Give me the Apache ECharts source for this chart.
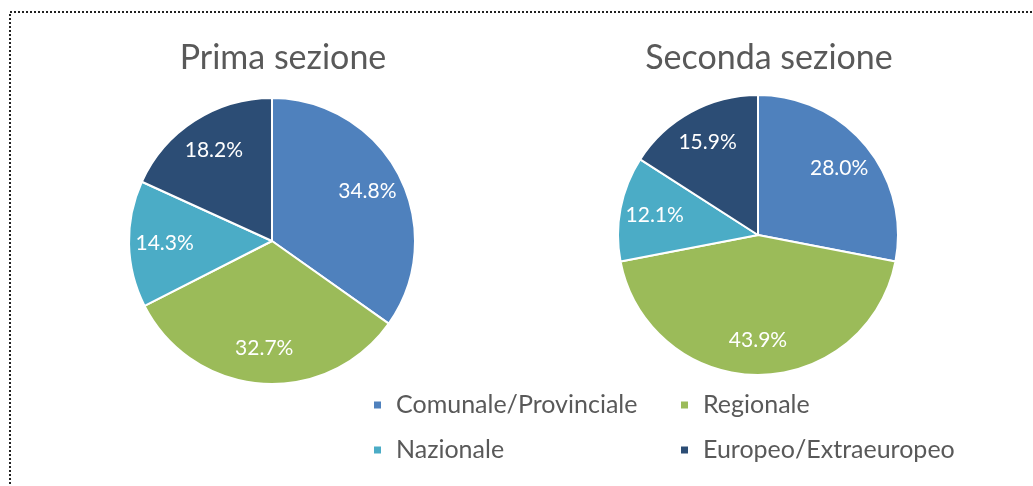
<!DOCTYPE html>
<html>
<head>
<meta charset="utf-8">
<script src="https://cdn.jsdelivr.net/npm/echarts@6/dist/echarts.min.js"></script>
<style>
html, body { margin: 0; padding: 0; background: #fff; }
#chart { width: 1033px; height: 486px; }
</style>
</head>
<body>
<div id="chart"></div>
<script>
const categories = ['Comunale/Provinciale', 'Regionale', 'Nazionale', 'Europeo/Extraeuropeo'];
const colors = ['#4F81BD', '#9BBB59', '#4BACC6', '#2C4D75'];
const primaValues = [34.8, 32.7, 14.3, 18.2];
const secondaValues = [28.0, 43.9, 12.1, 15.9];
const titles = ['Prima sezione', 'Seconda sezione'];

const font = 'Lato, "Open Sans", sans-serif';
const chart = echarts.init(document.getElementById('chart'));

function toData(values) {
    return categories.map((name, i) => ({ name: name, value: values[i] }));
}

// slices drawn in one series, labels in a transparent ring on top (puts them ~0.73R out)
function pieSeries(values, center, radius) {
    return [
        {
            type: 'pie',
            center: center,
            radius: [0, radius],
            startAngle: 90,
            clockwise: true,
            label: { show: false },
            labelLine: { show: false },
            itemStyle: { borderColor: '#fff', borderWidth: 2 },
            emphasis: { disabled: true },
            data: toData(values)
        },
        {
            type: 'pie',
            center: center,
            radius: [radius * 0.46, radius],
            startAngle: 90,
            clockwise: true,
            silent: true,
            itemStyle: { color: 'transparent', borderWidth: 0 },
            label: {
                show: true,
                position: 'inside',
                color: '#fff',
                fontFamily: font,
                fontSize: 21,
                formatter: p => p.value.toFixed(1) + '%'
            },
            labelLine: { show: false },
            emphasis: { disabled: true },
            data: toData(values)
        }
    ];
}

const legendText = { color: '#595959', fontFamily: font, fontSize: 25, lineHeight: 26, padding: [0, 0, 0, 9] };

const option = {
    animation: false,
    color: colors,
    title: [
        { text: titles[0], left: 278, top: 36, textAlign: 'center',
          textStyle: { color: '#595959', fontFamily: font, fontSize: 34, fontWeight: 'normal' } },
        { text: titles[1], left: 764, top: 36, textAlign: 'center',
          textStyle: { color: '#595959', fontFamily: font, fontSize: 34, fontWeight: 'normal' } }
    ],
    legend: [
        { data: [categories[0], categories[2]], orient: 'vertical', left: 372, top: 392, padding: 0,
          icon: 'rect', itemWidth: 9, itemHeight: 9, itemGap: 19, selectedMode: false, textStyle: legendText },
        { data: [categories[1], categories[3]], orient: 'vertical', left: 679, top: 392, padding: 0,
          icon: 'rect', itemWidth: 9, itemHeight: 9, itemGap: 19, selectedMode: false, textStyle: legendText }
    ],
    graphic: [
        { type: 'rect', silent: true, z: -1,
          shape: { x: 10, y: 12, width: 1040, height: 500 },
          style: { fill: null, stroke: '#222', lineWidth: 2, lineDash: [2, 2] } }
    ],
    series: [
        ...pieSeries(primaValues, [272, 241], 143),
        ...pieSeries(secondaValues, [758, 235], 140)
    ]
};

chart.setOption(option);
</script>
</body>
</html>
